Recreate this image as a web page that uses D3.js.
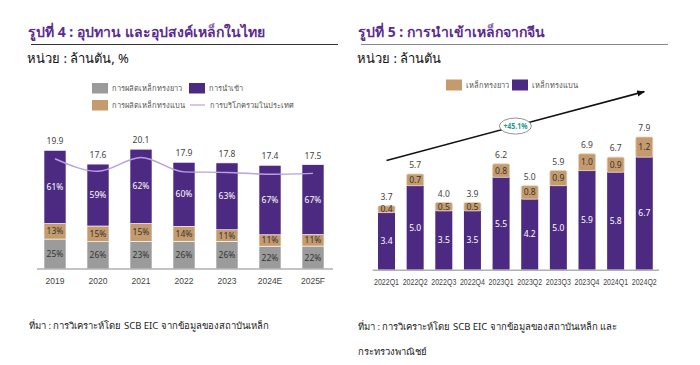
<!DOCTYPE html>
<html lang="th">
<head>
<meta charset="UTF-8">
<title>Steel charts</title>
<script src="https://d3js.org/d3.v7.min.js"></script>
<style>
    body { margin: 0; background: #fff; }
    svg { display: block; font-family: "Noto Sans", "Liberation Sans", sans-serif; }
    .title { font-size: 14px; font-weight: bold; fill: #5b2d8e; }
    .unit { font-size: 13px; fill: #111; }
    .legend { font-size: 7.5px; fill: #555; }
    .tick-label { font-size: 8.5px; fill: #444; }
    .total { font-size: 8.5px; fill: #444; }
    .seg { font-size: 8.5px; }
    .note { font-size: 9.5px; fill: #222; }
</style>
</head>
<body>
<svg width="700" height="365"></svg>
<script>
// ---- figure 4 data: supply & demand of steel in Thailand ----
const years = ["2019", "2020", "2021", "2022", "2023", "2024E", "2025F"];
const totalSupply = [19.9, 17.6, 20.1, 17.9, 17.8, 17.4, 17.5];
const longShare = [25, 26, 23, 26, 26, 22, 22];     // gray
const flatShare = [13, 15, 15, 14, 11, 11, 11];     // tan
const importShare = [61, 59, 62, 60, 63, 67, 67];   // purple
const consumption = [18.5, 16.4, 18.7, 16.3, 16.2, 15.9, 16.05];

// ---- figure 5 data: steel imports from China ----
const quarters = ["2022Q1", "2022Q2", "2022Q3", "2022Q4", "2023Q1", "2023Q2", "2023Q3", "2023Q4", "2024Q1", "2024Q2"];
const flatImport = [3.4, 5.0, 3.5, 3.5, 5.5, 4.2, 5.0, 5.9, 5.8, 6.7];
const longImport = [0.4, 0.7, 0.5, 0.5, 0.8, 0.8, 0.9, 1.0, 0.9, 1.2];
const totalImport = [3.7, 5.7, 4.0, 3.9, 6.2, 5.0, 5.9, 6.9, 6.7, 7.9];
const arrowFrom = ["2022Q1", 6.5];
const arrowTo = ["2024Q2", 10.6];
const growthLabel = "+45.1%";

const C = {
    purple: "#4d2a82",
    tan: "#c59b6d",
    gray: "#9b9b9b",
    line: "#b9a0e3",
    axis: "#b0b0b0"
};

const svg = d3.select("svg");

// ---------- headings ----------
function heading(x, title, unit, x2, lineColor) {
    svg.append("text").attr("class", "title").attr("x", x).attr("y", 37).text(title);
    svg.append("line").attr("x1", x + 3).attr("x2", x2).attr("y1", 44.5).attr("y2", 44.5)
        .attr("stroke", lineColor).attr("stroke-width", 1);
    svg.append("text").attr("class", "unit").attr("x", x - 1).attr("y", 63).text(unit);
}
heading(28, "รูปที่ 4 : อุปทาน และอุปสงค์เหล็กในไทย", "หน่วย : ล้านตัน, %", 338, "#333");
heading(358, "รูปที่ 5 : การนำเข้าเหล็กจากจีน", "หน่วย : ล้านตัน", 668, "#888");

// ---------- figure 4 ----------
const x1 = d3.scaleBand().domain(years).range([33.5, 334.5]).paddingInner(0.488).paddingOuter(0.244);
const y1 = d3.scaleLinear().domain([0, 20]).range([269, 149.8]);

const rows1 = years.map((yr, i) => {
    const parts = [
        { key: "long", pct: longShare[i], color: C.gray, text: "#333" },
        { key: "flat", pct: flatShare[i], color: C.tan, text: "#333" },
        { key: "imp", pct: importShare[i], color: C.purple, text: "#fff" }
    ];
    const sum = d3.sum(parts, p => p.pct);
    let acc = 0;
    parts.forEach(p => {
        p.y0 = acc;
        acc += totalSupply[i] * p.pct / sum;
        p.y1 = acc;
    });
    return { year: yr, total: totalSupply[i], parts };
});

const g1 = svg.append("g");
const bar1 = g1.selectAll("g.bar").data(rows1).enter().append("g").attr("class", "bar");

bar1.selectAll("rect").data(d => d.parts.map(p => ({ ...p, year: d.year }))).enter().append("rect")
    .attr("x", d => x1(d.year))
    .attr("width", x1.bandwidth())
    .attr("y", d => y1(d.y1))
    .attr("height", d => y1(d.y0) - y1(d.y1))
    .attr("fill", d => d.color)
    .attr("stroke", "#fff")
    .attr("stroke-width", 0.6);

bar1.selectAll("text.seg").data(d => d.parts.map(p => ({ ...p, year: d.year }))).enter().append("text")
    .attr("class", "seg")
    .attr("x", d => x1(d.year) + x1.bandwidth() / 2)
    .attr("y", d => (y1(d.y0) + y1(d.y1)) / 2 + 3)
    .attr("text-anchor", "middle")
    .attr("fill", d => d.text)
    .text(d => d.pct + "%");

bar1.append("text").attr("class", "total")
    .attr("x", d => x1(d.year) + x1.bandwidth() / 2)
    .attr("y", d => y1(d.total) - 6)
    .attr("text-anchor", "middle")
    .text(d => d.total.toFixed(1));

g1.append("path")
    .datum(consumption)
    .attr("fill", "none")
    .attr("stroke", C.line)
    .attr("stroke-width", 1.4)
    .attr("d", d3.line()
        .x((d, i) => x1(years[i]) + x1.bandwidth() / 2)
        .y(d => y1(d))
        .curve(d3.curveMonotoneX));

const ax1 = g1.append("g").attr("transform", "translate(0,269)")
    .call(d3.axisBottom(x1).tickSize(0).tickPadding(9));
ax1.select(".domain").attr("stroke", C.axis).attr("stroke-width", 1.5).attr("d", "M37,0H333");
ax1.selectAll("text").attr("class", "tick-label").attr("font-family", null).attr("font-size", null);

// legend 4
const leg1 = [
    { label: "การผลิตเหล็กทรงยาว", color: C.gray, x: 92, y: 88, type: "box" },
    { label: "การนำเข้า", color: C.purple, x: 189, y: 88, type: "box" },
    { label: "การผลิตเหล็กทรงแบน", color: C.tan, x: 92, y: 105, type: "box" },
    { label: "การบริโภครวมในประเทศ", color: C.line, x: 190, y: 105, type: "line" }
];
leg1.forEach(l => {
    if (l.type === "box") {
        svg.append("rect").attr("x", l.x).attr("y", l.y - 5).attr("width", 16).attr("height", 10.5).attr("fill", l.color);
    } else {
        svg.append("line").attr("x1", l.x).attr("x2", l.x + 15).attr("y1", l.y).attr("y2", l.y)
            .attr("stroke", l.color).attr("stroke-width", 1.2);
    }
    svg.append("text").attr("class", "legend").attr("x", l.x + 20).attr("y", l.y + 2.5).text(l.label);
});

// ---------- figure 5 ----------
const x2 = d3.scaleBand().domain(quarters).range([372.2, 658.6]).paddingInner(0.406).paddingOuter(0.203);
const y2 = d3.scaleLinear().domain([0, 8]).range([269.7, 135.3]);
const cx2 = q => x2(q) + x2.bandwidth() / 2;

const g2 = svg.append("g");
const bar2 = g2.selectAll("g.bar").data(quarters.map((q, i) => ({
    q, flat: flatImport[i], long: longImport[i], total: totalImport[i]
}))).enter().append("g").attr("class", "bar");

bar2.append("rect")
    .attr("x", d => x2(d.q)).attr("width", x2.bandwidth())
    .attr("y", d => y2(d.flat)).attr("height", d => y2(0) - y2(d.flat))
    .attr("fill", C.purple);
bar2.append("rect")
    .attr("x", d => x2(d.q)).attr("width", x2.bandwidth())
    .attr("y", d => y2(d.flat + d.long)).attr("height", d => y2(d.flat) - y2(d.flat + d.long))
    .attr("fill", C.tan).attr("stroke", "#e6d3bd").attr("stroke-width", 0.8)
    .attr("rx", 1.5);

bar2.append("text").attr("class", "seg")
    .attr("x", d => cx2(d.q)).attr("y", d => y2(d.flat / 2) + 3)
    .attr("text-anchor", "middle").attr("fill", "#fff")
    .text(d => d.flat.toFixed(1));
bar2.append("text").attr("class", "seg")
    .attr("x", d => cx2(d.q)).attr("y", d => y2(d.flat + d.long / 2) + 3)
    .attr("text-anchor", "middle").attr("fill", "#333")
    .text(d => d.long.toFixed(1));
bar2.append("text").attr("class", "total")
    .attr("x", d => cx2(d.q)).attr("y", d => y2(d.flat + d.long) - 6)
    .attr("text-anchor", "middle")
    .text(d => d.total.toFixed(1));

const ax2 = g2.append("g").attr("transform", "translate(0,269.7)")
    .call(d3.axisBottom(x2).tickSize(0).tickPadding(9));
ax2.select(".domain").attr("stroke", C.axis).attr("stroke-width", 1.5);
// the quarter labels are set in a narrow face in the original, squeeze them to fit
ax2.selectAll("text").attr("class", "tick-label").attr("font-family", null).attr("font-size", null)
    .attr("textLength", 25).attr("lengthAdjust", "spacingAndGlyphs");

// growth arrow
svg.append("defs").append("marker")
    .attr("id", "head").attr("viewBox", "0 0 10 10").attr("refX", 9).attr("refY", 5)
    .attr("markerWidth", 5).attr("markerHeight", 5).attr("orient", "auto")
    .append("path").attr("d", "M0,1L10,5L0,9Z").attr("fill", "#111");

const ax = cx2(arrowFrom[0]), ay = y2(arrowFrom[1]);
const bx = cx2(arrowTo[0]), by = y2(arrowTo[1]);
g2.append("line").attr("x1", ax).attr("y1", ay).attr("x2", bx).attr("y2", by)
    .attr("stroke", "#111").attr("stroke-width", 1.6).attr("marker-end", "url(#head)");

const ex = (cx2("2023Q1") + cx2("2023Q2")) / 2;
const ey = ay + (by - ay) * (ex - ax) / (bx - ax);
g2.append("ellipse").attr("cx", ex).attr("cy", ey).attr("rx", 16).attr("ry", 8)
    .attr("fill", "#fff").attr("stroke", "#777").attr("stroke-width", 0.8);
g2.append("text").attr("x", ex).attr("y", ey + 3).attr("text-anchor", "middle")
    .attr("font-size", 8).attr("font-weight", "bold").attr("fill", "#1f9a8a")
    .attr("textLength", 24).attr("lengthAdjust", "spacingAndGlyphs")
    .text(growthLabel);

// legend 5
const leg2 = [
    { label: "เหล็กทรงยาว", color: C.tan, x: 446 },
    { label: "เหล็กทรงแบน", color: C.purple, x: 512 }
];
leg2.forEach(l => {
    svg.append("rect").attr("x", l.x).attr("y", 79.5).attr("width", 16).attr("height", 11).attr("fill", l.color);
    svg.append("text").attr("class", "legend").attr("x", l.x + 20).attr("y", 87.5).text(l.label);
});

// ---------- sources ----------
svg.append("text").attr("class", "note").attr("x", 29).attr("y", 329)
    .text("ที่มา : การวิเคราะห์โดย SCB EIC จากข้อมูลของสถาบันเหล็ก");
svg.append("text").attr("class", "note").attr("x", 358).attr("y", 330)
    .text("ที่มา : การวิเคราะห์โดย SCB EIC จากข้อมูลของสถาบันเหล็ก และ");
svg.append("text").attr("class", "note").attr("x", 358).attr("y", 355)
    .text("กระทรวงพาณิชย์");
</script>
</body>
</html>
